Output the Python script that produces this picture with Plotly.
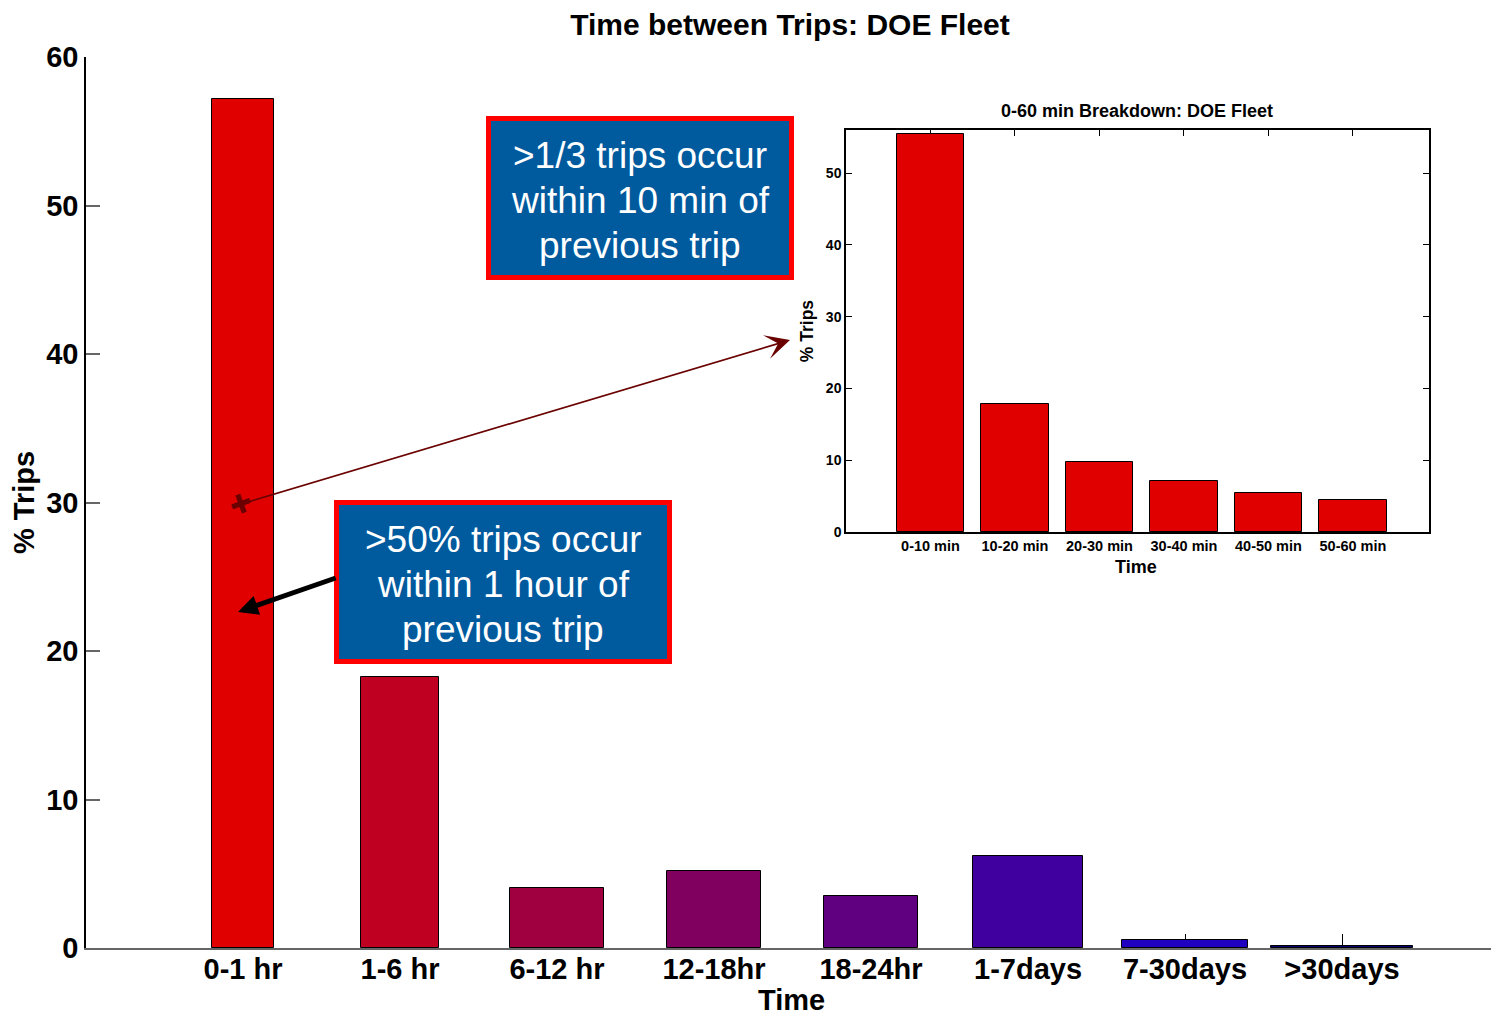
import plotly.graph_objects as go

# ---------------- data ----------------
categories = ["0-1 hr", "1-6 hr", "6-12 hr", "12-18hr", "18-24hr", "1-7days", "7-30days", ">30days"]
pct_trips = [57.2, 18.25, 4.05, 5.2, 3.5, 6.2, 0.55, 0.13]

inset_categories = ["0-10 min", "10-20 min", "20-30 min", "30-40 min", "40-50 min", "50-60 min"]
inset_pct_trips = [55.4, 17.8, 9.75, 7.1, 5.4, 4.5]

main_yticks = [0, 10, 20, 30, 40, 50, 60]
inset_yticks = [0, 10, 20, 30, 40, 50]

box1_lines = [">1/3 trips occur", "within 10 min of", "previous trip"]
box2_lines = [">50% trips occur", "within 1 hour of", "previous trip"]

# ---------------- style ----------------
bar_colors = ["#E00000", "#C00020", "#A00040", "#800060", "#600080", "#4000A0", "#2000C0", "#000070"]
bar_widths = [0.4, 0.5, 0.6, 0.6, 0.6, 0.7, 0.8, 0.9]
FONT = "Liberation Sans, Arial, Helvetica, sans-serif"

OFF = 8  # page body margin
W, H = 1499 - OFF, 1015 - OFF
ML, MR, MT = 86 - OFF, 0, 57 - OFF
PW, PH = W - ML - MR, 891
MB = H - MT - PH


def px_x(p):
    return (p - OFF - ML) / PW


def px_y(p):
    return (H - MB - (p - OFF)) / PH


xpos = list(range(1, len(categories) + 1))
ixpos = list(range(1, len(inset_categories) + 1))

fig = go.Figure()
fig.add_trace(go.Bar(
    x=xpos, y=pct_trips, width=bar_widths,
    marker=dict(color=bar_colors, line=dict(color="black", width=1)),
    xaxis="x", yaxis="y", showlegend=False,
))
fig.add_trace(go.Bar(
    x=ixpos, y=inset_pct_trips, width=0.8,
    marker=dict(color="#E00000", line=dict(color="black", width=1)),
    xaxis="x2", yaxis="y2", showlegend=False,
))

bold = dict(family=FONT, weight="bold", color="black")

fig.update_layout(
    width=W, height=H,
    margin=dict(l=ML, r=MR, t=MT, b=MB),
    paper_bgcolor="white", plot_bgcolor="white",
    title=dict(text="Time between Trips: DOE Fleet", x=px_x(790), xref="paper",
               xanchor="center", y=1 - (24 - OFF) / H, yanchor="middle",
               font=dict(size=30, **bold)),
    xaxis=dict(
        range=[0, 9], tickvals=xpos, ticktext=categories,
        tickfont=dict(size=29, **bold), ticks="inside", ticklen=14, tickcolor="black",
        showline=True, linecolor="#666", linewidth=1.5, showgrid=False, zeroline=False,
        layer="below traces", ticklabelstandoff=-6,
    ),
    yaxis=dict(
        range=[0, 60], tickvals=main_yticks,
        tickfont=dict(size=29, **bold), ticks="inside", ticklen=14, tickcolor="#666", tickwidth=1.5,
        showline=True, linecolor="black", linewidth=1.5, showgrid=False, zeroline=False,
        layer="below traces",
        title=dict(text="% Trips", font=dict(size=29, **bold), standoff=8),
    ),
    xaxis2=dict(
        domain=[px_x(846), px_x(1429)], anchor="y2", range=[0, 6.9],
        tickvals=ixpos, ticktext=inset_categories,
        tickfont=dict(size=14.5, **bold), ticks="inside", ticklen=6, tickcolor="black",
        showline=True, mirror="ticks", linecolor="black", linewidth=1.5,
        showgrid=False, zeroline=False, layer="below traces",
    ),
    yaxis2=dict(
        domain=[px_y(532), px_y(130)], anchor="x2", range=[0, 56],
        tickvals=inset_yticks,
        tickfont=dict(size=14, **bold), ticks="inside", ticklen=6, tickcolor="black",
        showline=True, mirror="ticks", linecolor="black", linewidth=1.5,
        showgrid=False, zeroline=False,
        title=dict(text="% Trips", font=dict(size=17.5, **bold), standoff=8),
    ),
    bargap=0,
)

# text boxes (blue fill, red border)
for (x0, y0, x1, y1) in [(488.5, 118.5, 791.5, 277.5), (336.5, 502.5, 669.5, 661.5)]:
    fig.add_shape(type="rect", xref="paper", yref="paper",
                  x0=px_x(x0), x1=px_x(x1), y0=px_y(y1), y1=px_y(y0),
                  fillcolor="#005A9E", line=dict(color="#FF0000", width=5), layer="above")

annotations = []
# main x-axis title
annotations.append(dict(
    text="Time", xref="paper", yref="paper", x=px_x(791), y=px_y(1000),
    xanchor="center", yanchor="middle", showarrow=False, font=dict(size=29, **bold),
))
# inset title
annotations.append(dict(
    text="0-60 min Breakdown: DOE Fleet", xref="paper", yref="paper",
    x=px_x(1137), y=px_y(111), xanchor="center", yanchor="middle",
    showarrow=False, font=dict(size=18, **bold),
))
# inset x-axis title
annotations.append(dict(
    text="Time", xref="paper", yref="paper", x=px_x(1136), y=px_y(567),
    xanchor="center", yanchor="middle", showarrow=False, font=dict(size=18, **bold),
))
# dark red arrow to inset
annotations.append(dict(
    x=4.484, y=40.94, ax=0.99, ay=29.9, xref="x", yref="y", axref="x", ayref="y",
    text="", showarrow=True, arrowhead=3, arrowsize=2.4, arrowwidth=1.7,
    arrowcolor="#6B0000", standoff=0,
))
annotations.append(dict(
    x=0.99, y=29.9, xref="x", yref="y", text="✚", showarrow=False, textangle=-20,
    font=dict(size=26, color="#6B0000", family="DejaVu Sans"),
))
# black arrow
annotations.append(dict(
    x=0.968, y=22.63, ax=1.6, ay=24.95, xref="x", yref="y", axref="x", ayref="y",
    text="", showarrow=True, arrowhead=2, arrowsize=0.8, arrowwidth=5,
    arrowcolor="black", standoff=0,
))
# box texts, one line each for exact spacing
box_font = dict(family=FONT, size=37, color="white")
for lines, cx, ys in [(box1_lines, 640, [155, 200, 245]), (box2_lines, 503, [539, 584, 629])]:
    for line, cy in zip(lines, ys):
        annotations.append(dict(
            text=line, xref="paper", yref="paper", x=px_x(cx), y=px_y(cy),
            xanchor="center", yanchor="middle", showarrow=False, font=box_font,
        ))
fig.update_layout(annotations=annotations)

fig.write_html("out.html")
